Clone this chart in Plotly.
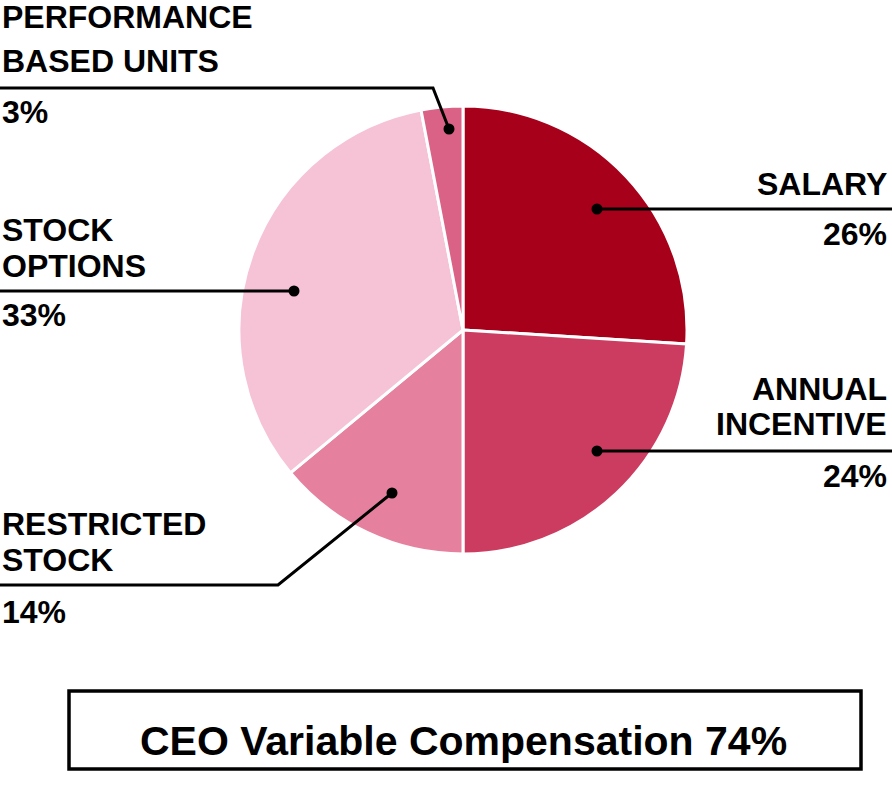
import plotly.graph_objects as go

W, H = 892, 800

# ---- data ----
categories = ["SALARY", "ANNUAL INCENTIVE", "RESTRICTED STOCK", "STOCK OPTIONS", "PERFORMANCE BASED UNITS"]
values = [26, 24, 14, 33, 3]
colors = ["#A6001A", "#CC3C60", "#E5809F", "#F6C2D6", "#DB6287"]
label_lines = [["SALARY"], ["ANNUAL", "INCENTIVE"], ["RESTRICTED", "STOCK"], ["STOCK", "OPTIONS"], ["PERFORMANCE", "BASED UNITS"]]
summary_text = "CEO Variable Compensation 74%"

# ---- layout positions (pixels) ----
CX, CY, R = 463, 330, 224
FONT = "Liberation Sans, Arial, Helvetica, sans-serif"

def px(x):
    return x / W

def py(y):
    return 1 - y / H

# per label: name-line cap centers, pct cap center, x, anchor, leader path, dot
label_layout = [
    dict(names_y=[184], pct_y=233.5, x=889, anchor="right",
         path=[(892, 209), (597, 209)], dot=(597, 209)),
    dict(names_y=[388.5, 424], pct_y=475.5, x=889, anchor="right",
         path=[(892, 451), (597, 451)], dot=(597, 451)),
    dict(names_y=[523.5, 560], pct_y=611.5, x=0, anchor="left",
         path=[(0, 585), (278, 585), (392, 493)], dot=(392, 493)),
    dict(names_y=[229.5, 266], pct_y=315, x=0, anchor="left",
         path=[(0, 291), (294, 291)], dot=(294, 291)),
    dict(names_y=[16.5, 60.5], pct_y=112, x=0, anchor="left",
         path=[(0, 88), (433, 88), (449, 129)], dot=(449, 129)),
]

fig = go.Figure()
fig.add_trace(go.Pie(
    labels=categories, values=values, sort=False, direction="clockwise", rotation=0,
    marker=dict(colors=colors, line=dict(color="white", width=3)),
    textinfo="none", hoverinfo="label+percent", showlegend=False,
    domain=dict(x=[px(CX - R), px(CX + R)], y=[py(CY + R), py(CY - R)]),
))

annotations = []
shapes = []
for lines, v, lay in zip(label_lines, values, label_layout):
    for t, y in zip(lines, lay["names_y"]):
        annotations.append(dict(text=t, x=px(lay["x"]), y=py(y), xref="paper", yref="paper",
                                xanchor=lay["anchor"], yanchor="middle", showarrow=False,
                                font=dict(family=FONT, size=32, color="black", weight="bold")))
    annotations.append(dict(text=f"{v}%", x=px(lay["x"]), y=py(lay["pct_y"]), xref="paper", yref="paper",
                            xanchor=lay["anchor"], yanchor="middle", showarrow=False,
                            font=dict(family=FONT, size=32, color="black", weight="bold")))
    p = "M " + " L ".join(f"{px(a):.5f},{py(b):.5f}" for a, b in lay["path"])
    shapes.append(dict(type="path", path=p, xref="paper", yref="paper",
                       line=dict(color="black", width=3)))
    dx, dy = lay["dot"]
    r = 5.5
    shapes.append(dict(type="circle", xref="paper", yref="paper",
                       x0=px(dx - r), x1=px(dx + r), y0=py(dy + r), y1=py(dy - r),
                       fillcolor="black", line=dict(color="black", width=0)))

# summary box
shapes.append(dict(type="rect", xref="paper", yref="paper",
                   x0=px(69), x1=px(861), y0=py(769), y1=py(691),
                   line=dict(color="black", width=3.5), fillcolor="rgba(0,0,0,0)"))
annotations.append(dict(text=summary_text, x=px(463), y=py(741), xref="paper", yref="paper",
                        xanchor="center", yanchor="middle", showarrow=False,
                        font=dict(family=FONT, size=41, color="black", weight="bold")))

fig.update_layout(
    width=W, height=H, margin=dict(l=0, r=0, t=0, b=0),
    paper_bgcolor="white", plot_bgcolor="white",
    annotations=annotations, shapes=shapes, showlegend=False,
)
fig.write_html("out.html", config={"displayModeBar": False},
               post_script="document.body.style.margin='0';document.body.style.overflow='hidden';")
